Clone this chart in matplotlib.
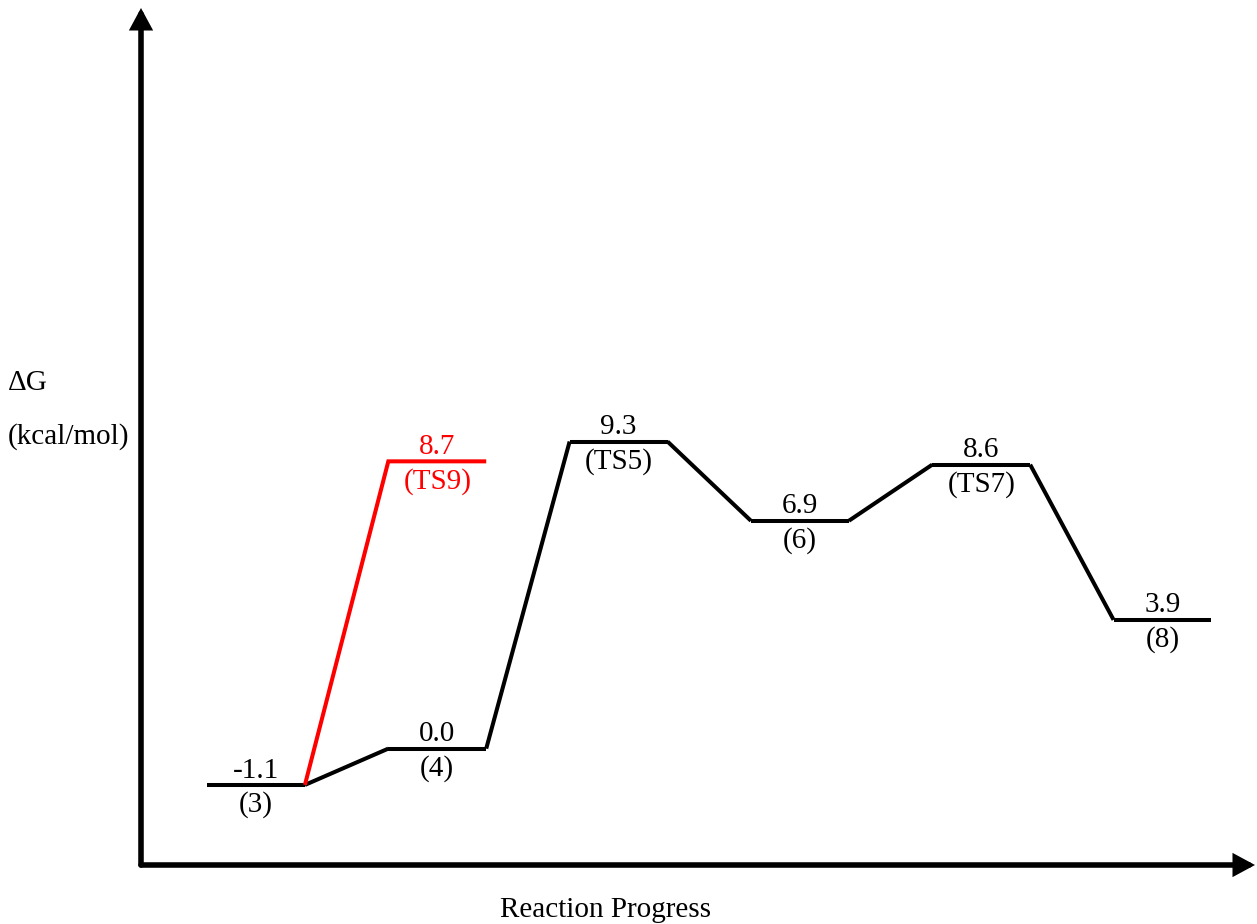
"""Free-energy profile for the reaction pathway (3) -> (8), with the competing TS9 branch."""
import matplotlib
matplotlib.use("Agg")
import matplotlib.pyplot as plt

plt.rcParams["font.family"] = ["Liberation Serif", "DejaVu Serif"]

# main pathway
names = ["(3)", "(4)", "(TS5)", "(6)", "(TS7)", "(8)"]
energies = [-1.1, 0.0, 9.3, 6.9, 8.6, 3.9]
value_labels = ["-1.1", "0.0", "9.3", "6.9", "8.6", "3.9"]

# competing branch from (3)
branch_from = 0
branch_name = "(TS9)"
branch_energy = 8.7
branch_label = "8.7"
branch_pos = 1

HALF = 0.27     # half width of an energy level, in step units
LW = 2.9
FS = 21
UP, DOWN = 1, -4.5   # label offsets (points) above / below a level

W, H = 1257, 924
fig = plt.figure(figsize=(W / 100, H / 100), dpi=100)
# axes spans exactly the arrowed axis lines (pixel box 141..1255 x 8..865)
ax = fig.add_axes([141 / W, (H - 865) / H, (1255 - 141) / W, (865 - 8) / H])
ax.set_xlim(-0.634, 5.51)
ax.set_ylim(-3.525, 22.43)
ax.set_axis_off()


def label(x, g, top, bottom, color="black"):
    ax.annotate(top, (x, g), xytext=(0, UP), textcoords="offset points",
                ha="center", va="bottom", fontsize=FS, color=color)
    ax.annotate(bottom, (x, g), xytext=(0, DOWN), textcoords="offset points",
                ha="center", va="top", fontsize=FS, color=color)


# levels and connectors of the main path
for i, (g, val, nm) in enumerate(zip(energies, value_labels, names)):
    ax.plot([i - HALF, i + HALF], [g, g], color="black", lw=LW,
            solid_capstyle="butt")
    if i + 1 < len(energies):
        ax.plot([i + HALF, i + 1 - HALF], [g, energies[i + 1]],
                color="black", lw=LW, solid_capstyle="butt")
    label(i, g, val, nm)

# red branch
g0 = energies[branch_from]
ax.plot([branch_from + HALF, branch_pos - HALF, branch_pos + HALF],
        [g0, branch_energy, branch_energy], color="red", lw=LW,
        solid_joinstyle="miter", solid_capstyle="butt")
label(branch_pos, branch_energy, branch_label, branch_name, color="red")

# arrowed axes
arrow = dict(arrowstyle="-|>,head_length=0.5,head_width=0.27",
             color="black", lw=4.0, shrinkA=0, shrinkB=0, mutation_scale=20,
             joinstyle="miter")
ax.annotate("", xy=(0, 1), xytext=(0, 0), xycoords="axes fraction",
            arrowprops=arrow)
ax.annotate("", xy=(1, 0), xytext=(0, 0), xycoords="axes fraction",
            arrowprops=arrow)

# axis titles
fig.text(8 / W, 1 - 383 / H, "ΔG", ha="left", va="center", fontsize=FS)
fig.text(8 / W, 1 - 437 / H, "(kcal/mol)", ha="left", va="center", fontsize=FS)
fig.text(606 / W, 1 - 910 / H, "Reaction Progress", ha="center",
         va="center", fontsize=FS)

fig.savefig("out.png", dpi=100)
